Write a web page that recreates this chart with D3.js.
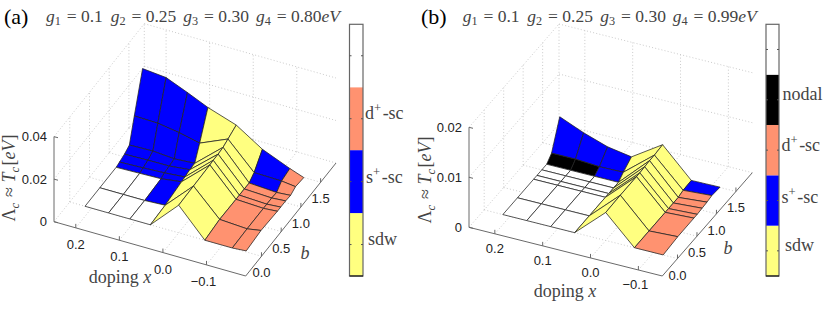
<!DOCTYPE html>
<html>
<head>
<meta charset="utf-8">
<script src="https://cdn.jsdelivr.net/npm/d3@7/dist/d3.min.js"></script>
<style>
  body { margin: 0; background: #fff; }
  text { font-family: "Liberation Serif", serif; fill: #444; }
  .tick-label { font-family: "Liberation Sans", sans-serif; font-size: 13px; fill: #222; }
</style>
</head>
<body>
<div id="chart"></div>
<script>
const width = 830, height = 312;

// b rows are the same for both surfaces
const bRows = [0, 0.375, 0.79, 0.875, 1.0, 1.125, 1.25, 1.46];
const xTicks = [0.2, 0.1, 0, -0.1];
const bTicks = [0, 0.5, 1.0, 1.5];

// panel a
const xA = [0.215, 0.161, 0.112, 0.065, 0, -0.06, -0.123, -0.155];
const zA = [
  [0, 0, 0, 0, 0.0130, 0, 0, 0.0005],
  [0, 0, 0, 0.0005, 0.0133, 0.0011, 0.0003, 0.0014],
  [0, 0.0003, 0.0006, 0.0019, 0.0136, 0.0009, 0.0003, 0.0008],
  [0.0005, 0.0009, 0.0014, 0.0022, 0.0138, 0.0009, 0.0003, 0.0008],
  [0.0013, 0.0016, 0.0017, 0.0027, 0.0138, 0.0009, 0.0003, 0.0008],
  [0.0027, 0.0030, 0.0022, 0.0028, 0.0141, 0.0008, 0, 0.0005],
  [0.0135, 0.0132, 0.0116, 0.0094, 0.0151, 0.0028, 0.0025, 0.0017],
  [0.0309, 0.0298, 0.0256, 0.0213, 0.0168, 0.0089, 0.0035, 0.0011]
];
const phaseA = [
  "WWWYYDD",
  "WWBYYDD",
  "BBBYYDD",
  "BBBYYDD",
  "BBBYYDD",
  "BBBYYBD",
  "BBBYYBD"
];
const zTicksA = [0, 0.02, 0.04];
const legendA = ["sdw", "s+", "d+", ""];

// panel b
const xB = [0.215, 0.165, 0.115, 0.065, 0, -0.06, -0.12];
const zB = [
  [0, 0, 0, 0, 0.0056, 0, 0],
  [0, 0, 0, 0, 0.0057, 0, 0.0003],
  [0, 0, 0, 0, 0.0057, 0, 0.0003],
  [0, 0, 0, 0, 0.0057, 0, 0.0003],
  [0, 0, 0, 0, 0.0058, 0, 0.0004],
  [0, 0, 0, 0, 0.0059, 0, 0.0005],
  [0.0011, 0.0011, 0.0008, 0.0009, 0.0059, 0.0003, 0.0007],
  [0.0065, 0.0045, 0.0029, 0.0021, 0.0061, 0.0004, 0.0005]
];
const phaseB = [
  "WWWYYD",
  "WWWYYD",
  "WWWYYD",
  "WWWYYD",
  "WWWYYD",
  "NNBYYD",
  "BBBYYB"
];
const zTicksB = [0, 0.01, 0.02];
const legendB = ["sdw", "s+", "d+", "nodal", ""];

const phaseColor = { W: "#ffffff", B: "#0000ff", D: "#ff9270", Y: "#ffff80", N: "#000000" };
const legendColor = { "sdw": "#ffff80", "s+": "#0000ff", "d+": "#ff9270", "nodal": "#000000", "": "#ffffff" };

const svg = d3.select("#chart").append("svg")
  .attr("width", width)
  .attr("height", height)
  .attr("viewBox", [0, 0, width, height]);

// writes [text, style] pieces, style: i italic, _ subscript, ^ superscript
function rich(t, parts, size) {
  parts.forEach(p => {
    const st = p[1] || "";
    const s = t.append("tspan").text(p[0]);
    if (st.includes("i")) s.attr("font-style", "italic");
    if (st.includes("_")) s.attr("font-size", size * 0.7).attr("dy", size * 0.22);
    if (st.includes("^")) s.attr("font-size", size * 0.7).attr("dy", -size * 0.38);
    if (st.includes("_") || st.includes("^")) {
      const back = st.includes("_") ? -size * 0.22 : size * 0.38;
      t.append("tspan").attr("dy", back).text("\u200a");
    }
  });
}

function drawPanel(p) {
  const g = svg.append("g");

  // oblique projection: each data axis runs along its own screen direction
  const xT = d3.scaleLinear().domain(p.xRange).range([0, 1]);
  const bT = d3.scaleLinear().domain(p.bRange).range([0, 1]);
  const zPx = d3.scaleLinear().domain([0, p.zTicks[p.zTicks.length - 1]]).range([0, p.zHeight]);
  const proj = (x, b, z) => [
    p.A[0] + xT(x) * (p.B[0] - p.A[0]) + bT(b) * (p.C[0] - p.B[0]),
    p.A[1] + xT(x) * (p.B[1] - p.A[1]) + bT(b) * (p.C[1] - p.B[1]) - zPx(z)
  ];
  const line = d3.line();

  const [xMax, xMin] = p.xRange;
  const [bMin, bMax] = p.bRange;
  const zTop = p.zTicks[p.zTicks.length - 1];
  const seg = [];

  // dotted box grid
  p.xTicks.forEach(x => {
    seg.push([proj(x, bMin, 0), proj(x, bMax, 0)]);
    seg.push([proj(x, bMax, 0), proj(x, bMax, zTop)]);
  });
  p.bTicks.forEach(b => {
    seg.push([proj(xMax, b, 0), proj(xMin, b, 0)]);
    seg.push([proj(xMax, b, 0), proj(xMax, b, zTop)]);
  });
  p.zTicks.forEach(z => {
    seg.push([proj(xMax, bMin, z), proj(xMax, bMax, z)]);
    seg.push([proj(xMax, bMax, z), proj(xMin, bMax, z)]);
  });
  seg.push([proj(xMax, bMax, 0), proj(xMax, bMax, zTop)]);
  g.append("g").selectAll("path").data(seg).join("path")
    .attr("d", line)
    .attr("fill", "none")
    .attr("stroke", "#c4c4c4")
    .attr("stroke-width", 0.9)
    .attr("stroke-dasharray", "1 2.2");

  // solid axes
  const axisPath = [proj(xMax, bMin, zTop), proj(xMax, bMin, 0), proj(xMin, bMin, 0), proj(xMin, bMax, 0)];
  g.append("path").attr("d", line(axisPath))
    .attr("fill", "none").attr("stroke", "#6a6a6a").attr("stroke-width", 1);

  p.xTicks.forEach(x => {
    const q = proj(x, bMin, 0);
    g.append("path").attr("d", line([q, [q[0], q[1] - 4]])).attr("stroke", "#6a6a6a");
    g.append("text").attr("class", "tick-label")
      .attr("x", q[0] - (x < 0 ? 3 : 0)).attr("y", q[1] + p.tickDy)
      .attr("text-anchor", "middle")
      .text(d3.format(".1f")(x).replace("-", "\u2212"));
  });
  p.bTicks.forEach(b => {
    const q = proj(xMin, b, 0);
    g.append("path").attr("d", line([q, [q[0], q[1] - 4]])).attr("stroke", "#6a6a6a");
    g.append("text").attr("class", "tick-label")
      .attr("x", q[0]).attr("y", q[1] + 21)
      .attr("text-anchor", "middle")
      .text(d3.format(".1f")(b));
  });
  p.zTicks.forEach(z => {
    const q = proj(xMax, bMin, z);
    g.append("path").attr("d", line([q, [q[0] + 4, q[1] + 1]])).attr("stroke", "#6a6a6a");
    g.append("text").attr("class", "tick-label")
      .attr("x", q[0] - 7).attr("y", q[1] + 4.5)
      .attr("text-anchor", "end")
      .text(z === 0 ? "0" : d3.format(".2f")(z));
  });

  // surface, far rows and high doping first so the ridge overlaps correctly
  const cells = [];
  for (let j = bRows.length - 2; j >= 0; j--) {
    for (let i = 0; i < p.xs.length - 1; i++) {
      cells.push({
        code: p.phase[j][i],
        pts: [
          proj(p.xs[i], bRows[j], p.zs[j][i]),
          proj(p.xs[i + 1], bRows[j], p.zs[j][i + 1]),
          proj(p.xs[i + 1], bRows[j + 1], p.zs[j + 1][i + 1]),
          proj(p.xs[i], bRows[j + 1], p.zs[j + 1][i])
        ]
      });
    }
  }
  g.append("g").selectAll("path").data(cells).join("path")
    .attr("d", d => line(d.pts) + "Z")
    .attr("fill", d => phaseColor[d.code])
    .attr("stroke", "#222")
    .attr("stroke-width", 0.75)
    .attr("stroke-linejoin", "round");

  // colorbar
  const cb = d3.scaleBand().domain(p.legend).range([p.cbY[1], p.cbY[0]]);
  const cbg = g.append("g");
  cbg.selectAll("rect").data(p.legend).join("rect")
    .attr("x", p.cbX[0]).attr("width", p.cbX[1] - p.cbX[0])
    .attr("y", d => cb(d)).attr("height", cb.bandwidth())
    .attr("fill", d => legendColor[d]);
  cbg.append("rect")
    .attr("x", p.cbX[0]).attr("y", p.cbY[0])
    .attr("width", p.cbX[1] - p.cbX[0]).attr("height", p.cbY[1] - p.cbY[0])
    .attr("fill", "none").attr("stroke", "#666").attr("stroke-width", 1.2);
  cbg.append("path")
    .attr("d", line([[p.cbX[0], p.cbY[1]], [p.cbX[1], p.cbY[1]]]))
    .attr("stroke", "#000");
  p.legend.forEach(d => {
    const y = cb(d) + cb.bandwidth() / 2;
    cbg.append("path").attr("d", line([[p.cbX[0], y], [p.cbX[0] + 2, y]])).attr("stroke", "#555");
    cbg.append("path").attr("d", line([[p.cbX[1] - 2, y], [p.cbX[1], y]])).attr("stroke", "#555");
  });
  p.legendText.forEach(d => {
    const t = cbg.append("text").attr("x", d.x).attr("y", d.y).attr("font-size", 18);
    rich(t, d.parts, 18);
  });

  // panel letter and the coupling values above it
  g.append("text").attr("x", p.letter[0]).attr("y", p.letter[1])
    .attr("font-size", 22).style("fill", "#000").text(p.name);
  p.title.forEach(d => {
    const t = g.append("text").attr("x", d.x).attr("y", 21.5).attr("font-size", 17.5);
    rich(t, d.parts, 17.5);
  });

  // axis titles
  const xl = g.append("text").attr("x", p.xLabel[0]).attr("y", p.xLabel[1])
    .attr("font-size", 18).attr("text-anchor", "middle");
  rich(xl, [["doping "], ["x", "i"]], 18);
  g.append("text").attr("x", p.bLabel[0]).attr("y", p.bLabel[1])
    .attr("font-size", 18).attr("font-style", "italic").attr("text-anchor", "middle").text("b");
  const yl = g.append("text")
    .attr("transform", `translate(${p.yLabel[0]},${p.yLabel[1]}) rotate(-90)`)
    .attr("font-size", 18).attr("text-anchor", "middle");
  rich(yl, [["\u039b"], ["c", "i_"], [" \u2248 "], ["T", "i"], ["c", "i_"], ["["], ["eV", "i"], ["]"]], 18);
}

function couplings(xs, last) {
  const vals = ["0.1", "0.25", "0.30", last];
  return xs.map((x, k) => ({
    x,
    parts: [["g", "i"], [String(k + 1), "_"], [" = " + vals[k]]].concat(k === 3 ? [["eV", "i"]] : [])
  }));
}

drawPanel({
  name: "(a)", letter: [4, 24], tickDy: 21,
  A: [54, 221.7], B: [245.7, 276], C: [336, 163],
  xRange: [0.25, -0.19], bRange: [-0.4, 1.89], zHeight: 85,
  xs: xA, zs: zA, phase: phaseA, zTicks: zTicksA, xTicks, bTicks,
  cbX: [349.5, 363], cbY: [24.3, 276], legend: legendA,
  legendText: [
    { x: 365, y: 119, parts: [["d"], ["+", "^"], ["-sc"]] },
    { x: 366, y: 183, parts: [["s"], ["+", "^"], ["-sc"]] },
    { x: 368, y: 245, parts: [["sdw"]] }
  ],
  title: couplings([46, 110.7, 183.3, 256], "0.80"),
  xLabel: [120, 283], bLabel: [305, 259], yLabel: [15, 178]
});

drawPanel({
  name: "(b)", letter: [421, 24], tickDy: 19.5,
  A: [469, 227.3], B: [662.3, 276], C: [752.3, 172.7],
  xRange: [0.254, -0.15], bRange: [-0.39, 1.92], zHeight: 100,
  xs: xB, zs: zB, phase: phaseB, zTicks: zTicksB, xTicks, bTicks,
  cbX: [766, 779], cbY: [24.3, 276], legend: legendB,
  legendText: [
    { x: 782.5, y: 100, parts: [["nodal"]] },
    { x: 781.5, y: 150.5, parts: [["d"], ["+", "^"], ["-sc"]] },
    { x: 781.5, y: 202.5, parts: [["s"], ["+", "^"], ["-sc"]] },
    { x: 785, y: 250.5, parts: [["sdw"]] }
  ],
  title: couplings([462.7, 527.3, 600.3, 672.7], "0.99"),
  xLabel: [565, 296.5], bLabel: [728, 254], yLabel: [431, 180]
});
</script>
</body>
</html>
